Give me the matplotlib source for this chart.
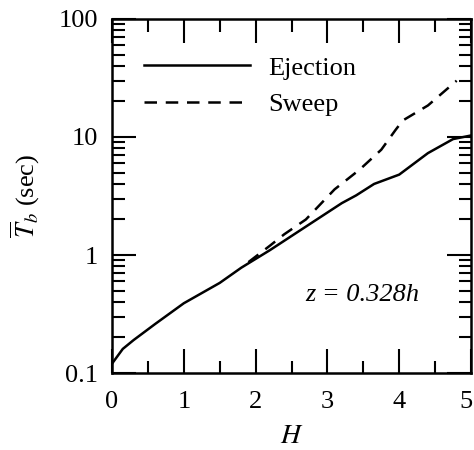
import numpy as np
import matplotlib.pyplot as plt
from matplotlib.ticker import LogLocator, NullFormatter, FixedLocator, MultipleLocator

plt.rcParams["font.family"] = "Liberation Serif"
plt.rcParams["mathtext.fontset"] = "stix"

# Ejection curve
h_ej = [0, 0.15, 0.3, 0.6, 1.0, 1.5, 1.8, 2.2, 2.7, 3.2, 3.4, 3.65, 4.0, 4.4, 4.75, 5.0]
t_ej = [0.12, 0.16, 0.19, 0.26, 0.39, 0.58, 0.78, 1.1, 1.74, 2.75, 3.2, 4.0, 4.8, 7.3, 9.6, 10.3]

# Sweep curve
h_sw = [1.9, 2.2, 2.4, 2.7, 3.1, 3.45, 3.75, 3.95, 4.05, 4.4, 4.8]
t_sw = [0.87, 1.2, 1.5, 2.0, 3.6, 5.3, 7.8, 11.5, 13.8, 18.5, 30]

x_ticks = [0, 1, 2, 3, 4, 5]
y_ticks = [0.1, 1, 10, 100]
y_ticklabels = ["0.1", "1", "10", "100"]

fig = plt.figure(figsize=(4.74, 4.5), dpi=100)
ax = fig.add_axes([0.2363, 0.1711, 0.7574, 0.7867])

ax.plot(h_ej, t_ej, color="black", lw=1.8, label="Ejection")
ax.plot(h_sw, t_sw, color="black", lw=1.8, ls=(0, (5, 3.5)), label="Sweep")

ax.set_yscale("log")
ax.set_xlim(0, 5)
ax.set_ylim(0.1, 100)

ax.set_xticks(x_ticks)
# last label drawn separately so it stays inside the picture
ax.set_xticklabels([str(v) for v in x_ticks[:-1]] + [""])
ax.xaxis.set_minor_locator(MultipleLocator(0.5))
ax.yaxis.set_major_locator(FixedLocator(y_ticks))
ax.yaxis.set_minor_locator(LogLocator(base=10, subs=np.arange(2, 10)))
ax.yaxis.set_minor_formatter(NullFormatter())
ax.set_yticklabels(y_ticklabels)

ax.tick_params(which="both", direction="in", top=True, right=True,
               width=1.5, labelsize=19, color="black")
ax.tick_params(which="major", length=17)
ax.tick_params(which="minor", length=9)
ax.tick_params(axis="x", pad=13)
ax.tick_params(axis="y", pad=10)
for s in ax.spines.values():
    s.set_linewidth(1.8)

ax.annotate(str(x_ticks[-1]), xy=(x_ticks[-1], 0), xycoords=("data", "axes fraction"),
            xytext=(-4, -13), textcoords="offset points",
            ha="center", va="top", fontsize=19)

ax.set_xlabel("$H$", fontsize=20, labelpad=8)
ax.set_ylabel(r"$\overline{T}_b$ (sec)", fontsize=19, labelpad=12)

ax.text(3.48, 0.46, "z = 0.328h", fontsize=19, style="italic",
        ha="center", va="center")

ax.legend(loc="upper left", frameon=False, fontsize=19, handlelength=4.0,
          handletextpad=0.7, labelspacing=0.5, borderaxespad=0.0,
          bbox_to_anchor=(0.06, 0.925))

fig.savefig("out.png", dpi=100)
